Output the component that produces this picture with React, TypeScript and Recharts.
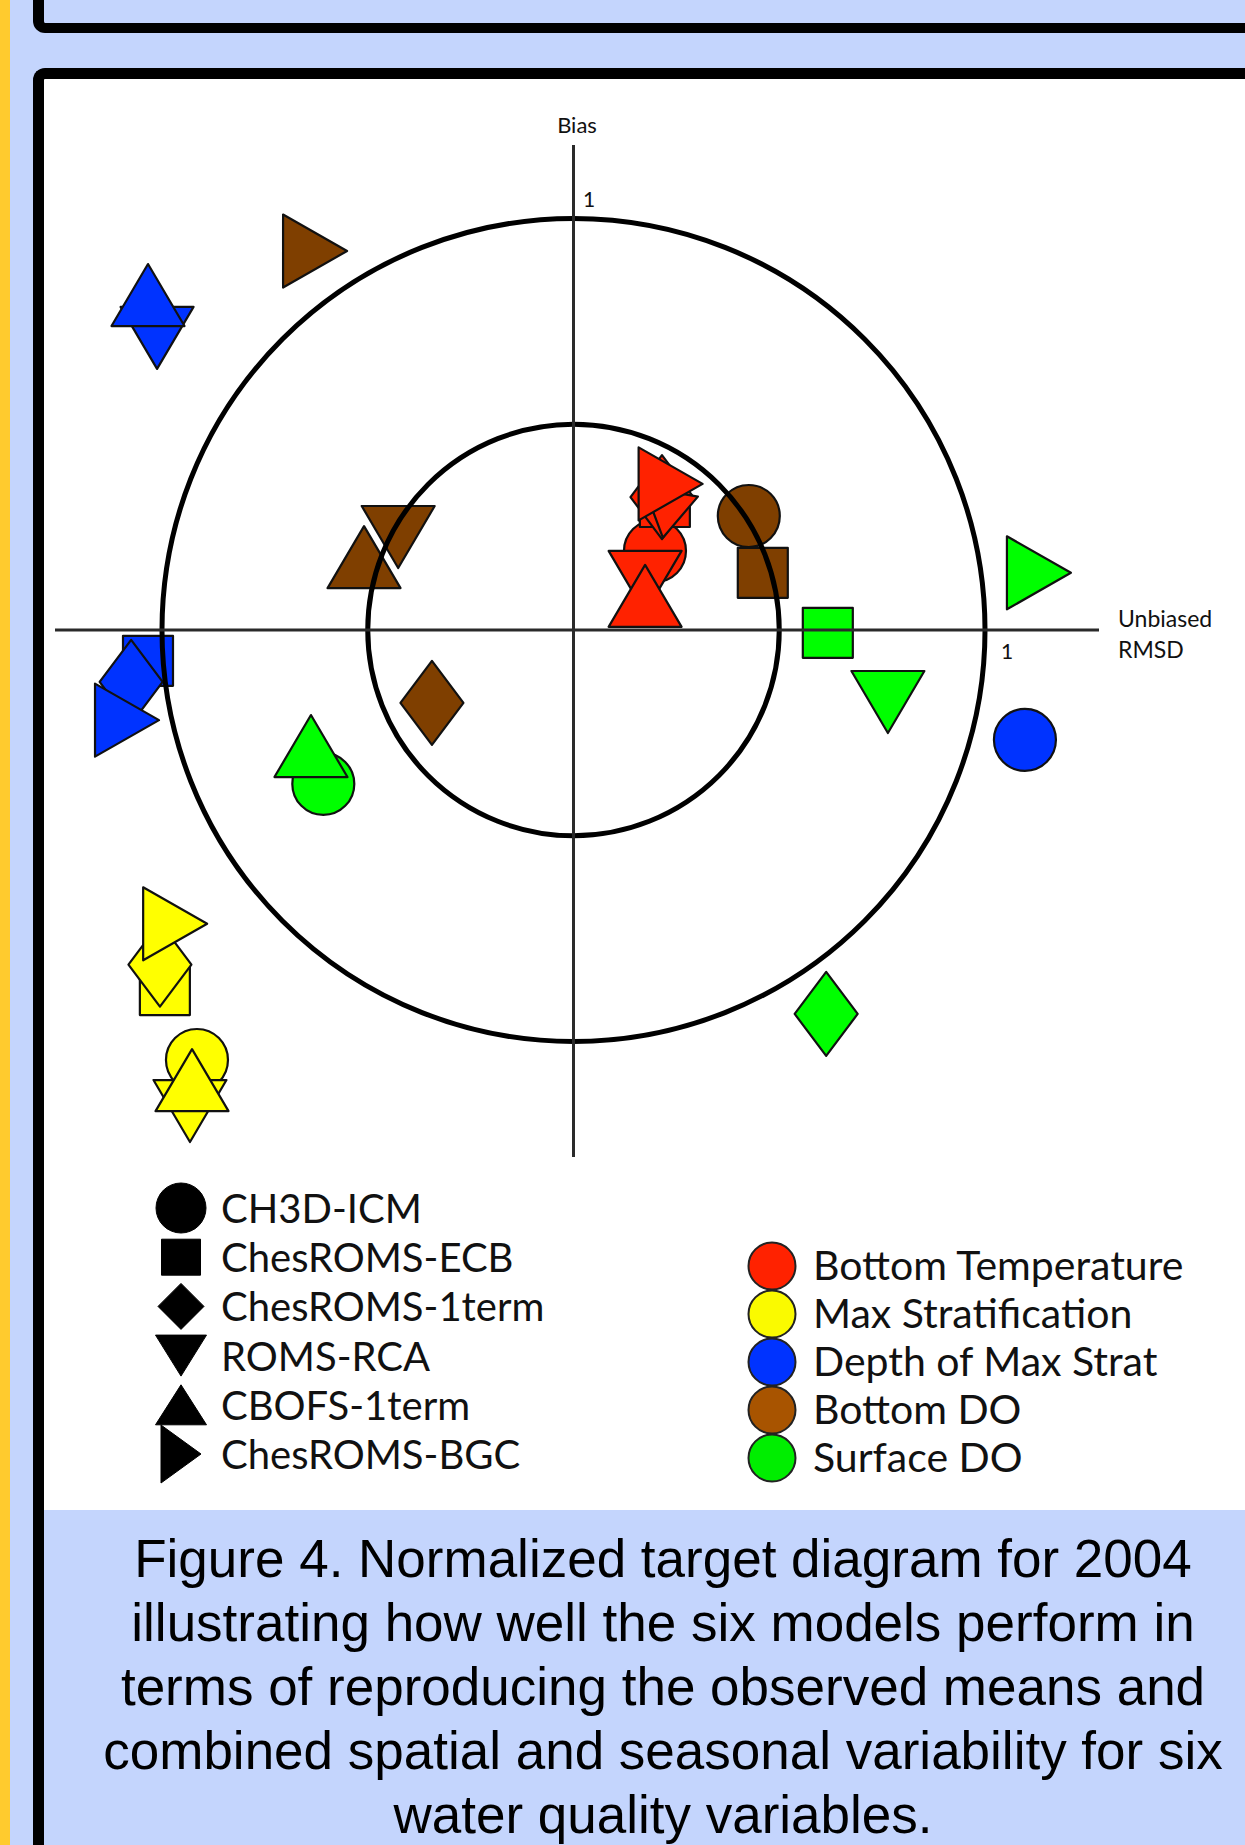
import React from 'react';
import {
  ScatterChart,
  Scatter,
  XAxis,
  YAxis,
  ReferenceLine,
  ReferenceArea,
  ReferenceDot,
  Legend,
} from 'recharts';

// ---------- categories ----------
const models = ['CH3D-ICM', 'ChesROMS-ECB', 'ChesROMS-1term', 'ROMS-RCA', 'CBOFS-1term', 'ChesROMS-BGC'];
const modelShapes = ['circle', 'square', 'diamond', 'down', 'up', 'right'];
const variables = ['Bottom Temperature', 'Max Stratification', 'Depth of Max Strat', 'Bottom DO', 'Surface DO'];

// ---------- values (x = unbiased RMSD, y = bias), ordered like `models` ----------
const bottomTemperatureRMSD = [0.198, 0.222, 0.215, 0.174, 0.174, 0.236];
const bottomTemperatureBias = [0.192, 0.311, 0.323, 0.117, 0.083, 0.355];
const maxStratificationRMSD = [-0.915, -0.993, -1.005, -0.932, -0.927, -0.968];
const maxStratificationBias = [-1.045, -0.875, -0.813, -1.169, -1.094, -0.714];
const depthMaxStratRMSD = [1.097, -1.034, -1.075, -1.012, -1.034, -1.085];
const depthMaxStratBias = [-0.267, -0.075, -0.126, 0.71, 0.814, -0.219];
const bottomDORMSD = [0.426, 0.46, -0.344, -0.426, -0.509, -0.628];
const bottomDOBias = [0.277, 0.139, -0.177, 0.226, 0.177, 0.921];
const surfaceDORMSD = [-0.608, 0.618, 0.614, 0.764, -0.638, 1.131];
const surfaceDOBias = [-0.374, -0.007, -0.933, -0.175, -0.282, 0.139];

// an additional (tilted) ROMS-RCA marker in the bottom temperature cluster
const extraBottomTemperatureRMSD = [0.227];
const extraBottomTemperatureBias = [0.28];

// target circles and axis tick values
const targetRadii = [0.5, 1];
const axisTickValues = [1];

const captionLines = [
  'Figure 4. Normalized target diagram for 2004',
  'illustrating how well the six models perform in',
  'terms of reproducing the observed means and',
  'combined spatial and seasonal variability for six',
  'water quality variables.',
];

// ---------- styles ----------
const chartColors: Record<string, string> = {
  'Bottom Temperature': '#FF2200',
  'Max Stratification': '#FFFF00',
  'Depth of Max Strat': '#0033FF',
  'Bottom DO': '#7F3F00',
  'Surface DO': '#00FF00',
};
const legendColors: Record<string, string> = {
  'Bottom Temperature': '#FF2200',
  'Max Stratification': '#FAFA00',
  'Depth of Max Strat': '#0033FF',
  'Bottom DO': '#A85400',
  'Surface DO': '#00EE00',
};
const markerSizes: Record<string, [number, number]> = {
  circle: [62, 62],
  square: [50, 50],
  diamond: [63, 84],
  down: [73, 62],
  up: [73, 62],
  right: [64, 73],
};
const legendSymbolSizes: Record<string, [number, number]> = {
  circle: [50, 50],
  square: [39, 36],
  diamond: [46, 46],
  down: [51, 41],
  up: [51, 40],
  right: [40, 58],
};
const FONT = 'Lato, "Open Sans", "DejaVu Sans", sans-serif';
const BG = '#C4D5FD';

// ---------- table for the library ----------
const rmsdByVariable = [bottomTemperatureRMSD, maxStratificationRMSD, depthMaxStratRMSD, bottomDORMSD, surfaceDORMSD];
const biasByVariable = [bottomTemperatureBias, maxStratificationBias, depthMaxStratBias, bottomDOBias, surfaceDOBias];
const modelData = models.map((model, mi) =>
  variables.map((variable, vi) => ({
    x: rmsdByVariable[vi][mi],
    y: biasByVariable[vi][mi],
    variable,
    model,
  }))
);
const extraData = extraBottomTemperatureRMSD.map((x, i) => ({
  x,
  y: extraBottomTemperatureBias[i],
  variable: 'Bottom Temperature',
  model: 'ROMS-RCA',
}));

function shapeElement(kind: string, cx: number, cy: number, w: number, h: number, fill: string, stroke: string, sw: number, transform?: string) {
  const common = { fill, stroke, strokeWidth: sw, strokeLinejoin: 'round' as const, transform };
  if (kind === 'circle') return <circle cx={cx} cy={cy} r={w / 2} {...common} />;
  if (kind === 'square') return <rect x={cx - w / 2} y={cy - h / 2} width={w} height={h} {...common} />;
  let pts: number[][] = [];
  if (kind === 'diamond') pts = [[cx, cy - h / 2], [cx + w / 2, cy], [cx, cy + h / 2], [cx - w / 2, cy]];
  if (kind === 'down') pts = [[cx - w / 2, cy - h / 2], [cx + w / 2, cy - h / 2], [cx, cy + h / 2]];
  if (kind === 'up') pts = [[cx, cy - h / 2], [cx + w / 2, cy + h / 2], [cx - w / 2, cy + h / 2]];
  if (kind === 'right') pts = [[cx - w / 2, cy - h / 2], [cx + w / 2, cy], [cx - w / 2, cy + h / 2]];
  return <polygon points={pts.map((p) => p.join(',')).join(' ')} {...common} />;
}

const makeShape = (kind: string, scale = 1, tilt = 0) => (props: any) => {
  const { cx, cy, payload } = props;
  if (cx == null || cy == null) return <g />;
  const [w, h] = markerSizes[kind];
  return (
    <g>
      {shapeElement(
        kind,
        cx,
        cy,
        w * scale,
        h * scale,
        chartColors[payload.variable],
        '#111',
        2.2,
        tilt ? `rotate(${tilt} ${cx} ${cy})` : undefined
      )}
    </g>
  );
};

const targetRing = (props: any) => {
  const { x, y, width, height } = props;
  return (
    <ellipse
      cx={x + width / 2}
      cy={y + height / 2}
      rx={Math.abs(width) / 2}
      ry={Math.abs(height) / 2}
      fill="none"
      stroke="#000"
      strokeWidth={5}
    />
  );
};

const biasLabel = (props: any) => {
  const vb = props.viewBox;
  return (
    <text x={vb.x + 3.5} y={vb.y - 12} textAnchor="middle" fontFamily={FONT} fontSize={22} fill="#111">
      Bias
    </text>
  );
};

const rmsdLabel = (props: any) => {
  const vb = props.viewBox;
  const x0 = vb.x + vb.width + 19;
  return (
    <text fontFamily={FONT} fontSize={23} fill="#111">
      <tspan x={x0} y={vb.y - 3}>Unbiased</tspan>
      <tspan x={x0} y={vb.y + 28}>RMSD</tspan>
    </text>
  );
};

const xTickLabel = (value: number) => (props: any) => {
  const vb = props.viewBox;
  return (
    <text x={vb.x + 22} y={vb.y + 29} textAnchor="middle" fontFamily={FONT} fontSize={21} fill="#111">
      {value}
    </text>
  );
};
const yTickLabel = (value: number) => (props: any) => {
  const vb = props.viewBox;
  return (
    <text x={vb.x + 15.5} y={vb.y - 11.5} textAnchor="middle" fontFamily={FONT} fontSize={21} fill="#111">
      {value}
    </text>
  );
};

const CHART_LEFT = 44;
const CHART_TOP = 79;
const CHART_W = 1201;
const CHART_H = 1431;

const renderLegend = () => (
  <svg width={CHART_W} height={CHART_H} style={{ position: 'absolute', left: 0, top: 0, overflow: 'visible' }}>
    <g transform={`translate(${-CHART_LEFT},${-CHART_TOP})`}>
      {models.map((m, i) => {
        const base = 1223 + i * 49.2;
        const [w, h] = legendSymbolSizes[modelShapes[i]];
        return (
          <g key={m}>
            {shapeElement(modelShapes[i], 181, base - 15, w, h, '#000', '#000', 1)}
            <text x={221} y={base} fontFamily={FONT} fontSize={40} fill="#111">
              {m}
            </text>
          </g>
        );
      })}
      {variables.map((v, i) => {
        const cy = 1266 + i * 48;
        return (
          <g key={v}>
            <circle cx={772} cy={cy} r={23.5} fill={legendColors[v]} stroke="#222" strokeWidth={2} />
            <text x={813} y={cy + 14} fontFamily={FONT} fontSize={41} fill="#111">
              {v}
            </text>
          </g>
        );
      })}
    </g>
  </svg>
);

function TargetDiagram() {
  const order = [0, 1, 2, 3, 4];
  return (
    <ScatterChart width={CHART_W} height={CHART_H} margin={{ top: 66, right: 146, bottom: 353, left: 11 }}>
      <XAxis type="number" dataKey="x" domain={[-1.26, 1.277]} allowDataOverflow hide />
      <YAxis type="number" dataKey="y" domain={[-1.2807, 1.1786]} allowDataOverflow hide />
      {order.map((mi) => (
        <Scatter
          key={models[mi]}
          name={models[mi]}
          data={modelData[mi]}
          shape={makeShape(modelShapes[mi])}
          isAnimationActive={false}
        />
      ))}
      <Scatter
        key="extra"
        name="ROMS-RCA (tilted)"
        data={extraData}
        shape={makeShape('down', 0.75, 10)}
        isAnimationActive={false}
      />
      <Scatter
        key={models[5]}
        name={models[5]}
        data={modelData[5]}
        shape={makeShape(modelShapes[5])}
        isAnimationActive={false}
      />
      {targetRadii.map((r) => (
        <ReferenceArea
          key={`ring-${r}`}
          x1={-r}
          x2={r}
          y1={-r}
          y2={r}
          ifOverflow="visible"
          shape={targetRing}
          zIndex={1000}
        />
      ))}
      <ReferenceLine x={0} stroke="#2a2a2a" strokeWidth={3} label={biasLabel} zIndex={1000} />
      <ReferenceLine y={0} stroke="#2a2a2a" strokeWidth={3} label={rmsdLabel} zIndex={1000} />
      {axisTickValues.map((t) => (
        <ReferenceDot key={`xt-${t}`} x={t} y={0} r={0} fill="none" stroke="none" label={xTickLabel(t)} zIndex={1000} />
      ))}
      {axisTickValues.map((t) => (
        <ReferenceDot key={`yt-${t}`} x={0} y={t} r={0} fill="none" stroke="none" label={yTickLabel(t)} zIndex={1000} />
      ))}
      <Legend
        layout="vertical"
        align="center"
        verticalAlign="middle"
        content={renderLegend}
        wrapperStyle={{ position: 'absolute', left: 0, top: 0, width: CHART_W, height: CHART_H, pointerEvents: 'none' }}
      />
    </ScatterChart>
  );
}

export default function App() {
  return (
    <div
      style={{
        position: 'absolute',
        left: 0,
        top: 0,
        width: 1245,
        height: 1845,
        overflow: 'hidden',
        background: BG,
      }}
    >
      <div style={{ position: 'absolute', left: 0, top: 0, width: 10, height: 1845, background: '#FFCB2E' }} />
      <div
        style={{
          position: 'absolute',
          left: 33,
          top: -60,
          width: 1300,
          height: 93,
          boxSizing: 'border-box',
          borderLeft: '11px solid #000',
          borderBottom: '10px solid #000',
          borderBottomLeftRadius: 12,
          background: BG,
        }}
      />
      <div
        style={{
          position: 'absolute',
          left: 33,
          top: 68,
          width: 1300,
          height: 1900,
          boxSizing: 'border-box',
          borderLeft: '11px solid #000',
          borderTop: '11px solid #000',
          borderTopLeftRadius: 12,
          background: '#fff',
        }}
      />
      <div style={{ position: 'absolute', left: 44, top: 1510, width: 1250, height: 340, background: BG }} />
      <div
        style={{
          position: 'absolute',
          left: 44,
          top: 1527,
          width: 1238,
          textAlign: 'center',
          fontFamily: '"Liberation Sans", Arial, sans-serif',
          fontSize: 53,
          lineHeight: '64px',
          color: '#000',
          whiteSpace: 'nowrap',
        }}
      >
        {captionLines.map((l, i) => (
          <div key={i}>{l}</div>
        ))}
      </div>
      <div style={{ position: 'absolute', left: CHART_LEFT, top: CHART_TOP, width: CHART_W, height: CHART_H }}>
        <TargetDiagram />
      </div>
    </div>
  );
}
